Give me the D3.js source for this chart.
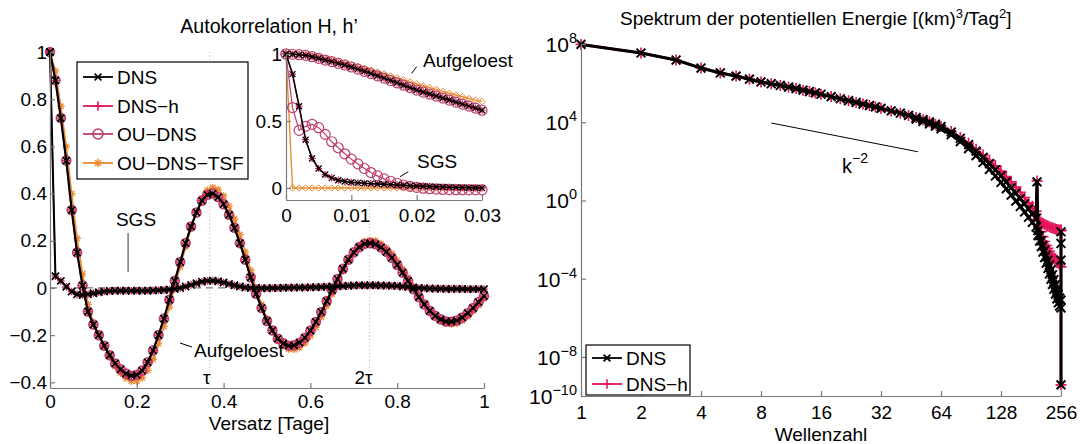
<!DOCTYPE html>
<html>
<head>
<meta charset="utf-8">
<script src="https://cdn.jsdelivr.net/npm/d3@7"></script>
<style>
body { margin: 0; background: #fff; }
#chart { width: 1080px; height: 444px; }
text { font-family: "Liberation Sans", Arial, sans-serif; fill: #000; }
</style>
</head>
<body>
<div id="chart"></div>
<script>
// Autokorrelation, Versatz 0..1 Tage (Schritt 0.0125)
var lagStep = 0.0125;
var acfDNS = [1.00, 0.88, 0.72, 0.54, 0.33, 0.15, 0.01, -0.10, -0.155, -0.20,
    -0.245, -0.285, -0.32, -0.345, -0.363, -0.372, -0.368, -0.35, -0.315, -0.265,
    -0.20, -0.13, -0.05, 0.03, 0.11, 0.19, 0.26, 0.32, 0.37, 0.395,
    0.40, 0.385, 0.355, 0.31, 0.255, 0.19, 0.12, 0.045, -0.025, -0.085,
    -0.14, -0.18, -0.215, -0.235, -0.245, -0.243, -0.232, -0.211, -0.181, -0.144,
    -0.102, -0.056, -0.009, 0.038, 0.081, 0.12, 0.151, 0.173, 0.187, 0.19,
    0.185, 0.172, 0.153, 0.128, 0.098, 0.065, 0.03, -0.005, -0.039, -0.07,
    -0.097, -0.118, -0.133, -0.142, -0.143, -0.138, -0.125, -0.107, -0.085, -0.06,
    -0.034];
var acfTSF = [1.00, 0.92, 0.77, 0.60, 0.40, 0.21, 0.06, -0.07, -0.147, -0.199,
    -0.247, -0.291, -0.331, -0.361, -0.382, -0.395, -0.395, -0.381, -0.349, -0.301,
    -0.236, -0.163, -0.081, 0.004, 0.09, 0.175, 0.255, 0.322, 0.379, 0.414,
    0.426, 0.417, 0.39, 0.347, 0.292, 0.226, 0.152, 0.074, -0.003, -0.071,
    -0.131, -0.179, -0.218, -0.245, -0.259, -0.261, -0.253, -0.233, -0.204, -0.167,
    -0.123, -0.076, -0.026, 0.025, 0.072, 0.116, 0.151, 0.178, 0.196, 0.202,
    0.2, 0.188, 0.17, 0.146, 0.116, 0.081, 0.044, 0.006, -0.03, -0.064,
    -0.094, -0.119, -0.137, -0.149, -0.153, -0.15, -0.138, -0.121, -0.098, -0.073,
    -0.045];
var acfSGS = [1.0, 0.05, 0.03, 0.005, -0.015, -0.027, -0.03, -0.027, -0.022, -0.018,
    -0.015, -0.013, -0.012, -0.012, -0.012, -0.012, -0.012, -0.012, -0.012, -0.011,
    -0.01, -0.009, -0.007, -0.004, 0.0, 0.006, 0.013, 0.02, 0.026, 0.03,
    0.031, 0.028, 0.023, 0.017, 0.011, 0.006, 0.002, 0.0, 0.0, -0.001,
    -0.001, 0.0, 0.0, 0.001, 0.001, 0.002, 0.002, 0.002, 0.003, 0.003,
    0.004, 0.005, 0.006, 0.007, 0.008, 0.009, 0.01, 0.011, 0.011, 0.011,
    0.011, 0.01, 0.01, 0.009, 0.008, 0.006, 0.004, 0.002, 0.0, -0.001,
    -0.002, -0.003, -0.003, -0.004, -0.004, -0.004, -0.004, -0.005, -0.005, -0.005,
    -0.005];

// Ausschnitt 0..0.03 Tage (Schritt 0.001)
var insetStep = 0.001;
var insetDNS = [1.0, 0.998, 0.995, 0.99, 0.98, 0.968, 0.955, 0.943, 0.93, 0.918, 0.903,
    0.887, 0.871, 0.854, 0.837, 0.82, 0.802, 0.785, 0.767, 0.749, 0.731,
    0.716, 0.701, 0.686, 0.671, 0.656, 0.641, 0.626, 0.611, 0.596, 0.58];
var insetTSF = [1.0, 0.999, 0.997, 0.993, 0.986, 0.977, 0.967, 0.956, 0.945, 0.933, 0.921,
    0.908, 0.894, 0.88, 0.866, 0.852, 0.837, 0.822, 0.807, 0.792, 0.777,
    0.763, 0.749, 0.735, 0.721, 0.707, 0.694, 0.681, 0.668, 0.656, 0.644];
var insetSgsDNS = [1.0, 0.85, 0.61, 0.36, 0.22, 0.145, 0.10, 0.075, 0.058, 0.048, 0.042,
    0.038, 0.035, 0.032, 0.03, 0.027, 0.025, 0.022, 0.02, 0.017, 0.015,
    0.013, 0.011, 0.009, 0.007, 0.006, 0.004, 0.003, 0.002, 0.001, 0.0];
var insetSgsOU = [1.0, 0.60, 0.43, 0.46, 0.475, 0.45, 0.40, 0.345, 0.30, 0.255, 0.215,
    0.18, 0.145, 0.115, 0.09, 0.068, 0.05, 0.035, 0.022, 0.012, 0.004,
    -0.002, -0.006, -0.009, -0.011, -0.012, -0.013, -0.013, -0.014, -0.014, -0.014];
var insetSgsTSF = [1.0, 0, 0, 0, 0, 0, 0, 0, 0, 0, 0,
    0, 0, 0, 0, 0, 0, 0, 0, 0, 0,
    0, 0, 0, 0, 0, 0, 0, 0, 0, 0];

var tau = 0.368;
var leftXTicks = [0, 0.2, 0.4, 0.6, 0.8, 1];
var leftYTicks = [-0.4, -0.2, 0, 0.2, 0.4, 0.6, 0.8, 1];
var insetXTicks = [0, 0.01, 0.02, 0.03];
var insetYTicks = [0, 0.5, 1];
var legendLeft = ["DNS", "DNS\u2212h", "OU\u2212DNS", "OU\u2212DNS\u2212TSF"];

// Spektrum (log10 der Energie), mehrere Zeitpunkte je Lauf
var kDNS = [1,2,3,4,5,6,7,8,9,10,11,12,13,14,15,16,18,20,22,24,26,28,30,32,36,40,44,48,52,56,60,64,
    72,80,88,96,104,112,120,128,136,144,152,160,168,176,184,192,194,
    196,200,204,208,212,216,220,224,228,232,236,240,244,248,252,256,256,256,256,256];
var eDNS = [7.98,7.54,7.18,6.77,6.52,6.36,6.2,6.06,5.97,5.88,5.8,5.72,5.64,5.57,5.5,5.43,
    5.31,5.2,5.1,5.01,4.93,4.85,4.78,4.71,4.58,4.46,4.35,4.24,4.13,4.02,3.9,3.78,
    3.5,3.18,2.85,2.52,2.2,1.88,1.56,1.25,0.95,0.65,0.37,0.1,-0.17,-0.43,-0.7,-0.92,0.95,
    -1.55,-1.8,-2.05,-2.3,-2.55,-2.8,-3.05,-3.3,-3.55,-3.8,-4.05,-4.3,-4.55,-4.8,-5.0,-5.1,-1.6,-2.2,-3.05,-9.43];
var kDNS2 = [48,52,56,60,64,72,80,88,96,104,112,120,128,136,144,152,160,168,176,184,192,
    196,200,204,208,212,216,220,224,228,232,236,240,244,248,252,256];
var eDNS2 = [4.16,4.04,3.92,3.8,3.66,3.36,3.01,2.65,2.29,1.94,1.59,1.25,0.92,0.59,0.27,-0.03,-0.31,-0.59,-0.86,-1.12,-1.36,
    -1.8,-2.08,-2.36,-2.64,-2.92,-3.2,-3.48,-3.76,-4.03,-4.29,-4.54,-4.79,-5.03,-5.24,-5.4,-5.5];
var kDNSh = [1,2,3,4,5,6,7,8,9,10,11,12,13,14,15,16,18,20,22,24,26,28,30,32,36,40,44,48,52,56,60,64,
    72,80,88,96,104,112,120,128,136,144,152,160,168,176,184,192,194,
    196,200,204,208,212,216,220,224,228,232,236,240,244,248,252,256,256,256];
var eDNSh = [7.98,7.54,7.18,6.77,6.52,6.36,6.2,6.06,5.97,5.88,5.8,5.72,5.64,5.57,5.5,5.43,
    5.31,5.2,5.1,5.01,4.93,4.85,4.78,4.71,4.58,4.46,4.35,4.24,4.13,4.02,3.9,3.78,
    3.52,3.22,2.92,2.62,2.33,2.05,1.77,1.5,1.22,0.95,0.68,0.42,0.15,-0.12,-0.4,-0.7,1.0,
    -1.0,-1.3,-1.6,-1.85,-2.1,-2.3,-2.45,-2.6,-2.75,-2.85,-2.95,-3.05,-3.15,-3.2,-3.3,-3.4,-1.5,-9.43];
var kDNSh2 = [184,192,196,200,204,208,212,216,220,224,228,232,236,240,244,248,252,256];
var eDNSh2 = [-0.3,-0.55,-0.95,-1.05,-1.12,-1.18,-1.23,-1.27,-1.31,-1.35,-1.38,-1.41,-1.44,-1.46,-1.48,-1.5,-1.52,-1.55];
var kRef = [9, 49];
var eRef = [3.96, 2.49];
var rightXTicks = [1, 2, 4, 8, 16, 32, 64, 128, 256];
var rightYTicks = [-10, -8, -4, 0, 4, 8];
var legendRight = ["DNS", "DNS\u2212h"];

var FONT = "'Liberation Sans', Arial, sans-serif";
var axisGray = "#7a7a7a";
var colDNS = "#000000", colH = "#e3165e", colOU = "#bf3f6c", colTSF = "#ec8b2f";

var svg = d3.select("#chart")
    .append("svg")
    .attr("width", 1080)
    .attr("height", 444);

function markerPath(type, s) {
    if (type == "x") return "M" + (-s) + "," + (-s) + "L" + s + "," + s + "M" + (-s) + "," + s + "L" + s + "," + (-s);
    if (type == "+") return "M" + (-s) + ",0L" + s + ",0M0," + (-s) + "L0," + s;
    if (type == "d") return "M0," + (-s) + "L" + s + ",0L0," + s + "L" + (-s) + ",0Z";
    var t = s * 0.72;
    return "M" + (-t) + "," + (-t) + "L" + t + "," + t + "M" + (-t) + "," + t + "L" + t + "," + (-t) +
        "M" + (-s) + ",0L" + s + ",0M0," + (-s) + "L0," + s;
}

function drawMarkers(g, pts, x, y, color, marker, ms, mw) {
    if (marker == "o") {
        g.selectAll(null).data(pts).enter().append("circle")
            .attr("cx", function(d) { return x(d[0]); })
            .attr("cy", function(d) { return y(d[1]); })
            .attr("r", ms)
            .attr("fill", "none")
            .attr("stroke", color)
            .attr("stroke-width", mw);
    } else {
        g.selectAll(null).data(pts).enter().append("path")
            .attr("transform", function(d) { return "translate(" + x(d[0]) + "," + y(d[1]) + ")"; })
            .attr("d", markerPath(marker, ms))
            .attr("fill", "none")
            .attr("stroke", color)
            .attr("stroke-width", mw);
    }
}

function drawSeries(g, pts, x, y, color, lw, marker, ms, mw) {
    var line = d3.line()
        .x(function(d) { return x(d[0]); })
        .y(function(d) { return y(d[1]); });
    g.append("path")
        .datum(pts)
        .attr("d", line)
        .attr("fill", "none")
        .attr("stroke", color)
        .attr("stroke-width", lw)
        .attr("stroke-linejoin", "round");
    drawMarkers(g, pts, x, y, color, marker, ms, mw);
}

function styleAxis(g) {
    g.attr("font-family", FONT).attr("font-size", 19);
    g.select(".domain").attr("stroke", axisGray).attr("stroke-width", 1.2);
    g.selectAll(".tick line").attr("stroke", axisGray).attr("stroke-width", 1.2);
    g.selectAll(".tick text").attr("fill", "#000");
}

function toPts(values, step) {
    return values.map(function(v, i) { return [i * step, v]; });
}

// ---------------- linke Grafik ----------------
var xL = d3.scaleLinear().domain([0, 1]).range([50, 484]);
var yL = d3.scaleLinear().domain([-0.424, 1]).range([388, 52]);

var left = svg.append("g");

// tau Linien und Nulllinie
[tau, 2 * tau].forEach(function(t) {
    left.append("line")
        .attr("x1", xL(t)).attr("x2", xL(t))
        .attr("y1", yL(1)).attr("y2", yL(-0.424))
        .attr("stroke", "#b5b5b5")
        .attr("stroke-width", 1)
        .attr("stroke-dasharray", "1,2.5");
});
left.append("line")
    .attr("x1", xL(0)).attr("x2", xL(1))
    .attr("y1", yL(0)).attr("y2", yL(0))
    .attr("stroke", "#7a7a7a")
    .attr("stroke-width", 1.2)
    .attr("stroke-dasharray", "7,5");

var mainCurves = left.append("g");
drawSeries(mainCurves, toPts(acfTSF, lagStep), xL, yL, colTSF, 1.6, "*", 3.8, 1.3);
drawSeries(mainCurves, toPts(acfDNS, lagStep), xL, yL, colOU, 1.4, "o", 4.4, 1.8);
drawSeries(mainCurves, toPts(acfDNS, lagStep), xL, yL, colH, 1.4, "+", 3.8, 1.3);
drawSeries(mainCurves, toPts(acfSGS, lagStep), xL, yL, colH, 1.4, "+", 3.8, 1.3);
drawSeries(mainCurves, toPts(acfDNS, lagStep), xL, yL, colDNS, 2.2, "x", 3.5, 1.7);
drawSeries(mainCurves, toPts(acfSGS, lagStep), xL, yL, colDNS, 2, "x", 3.6, 1.8);

var xAxisL = left.append("g")
    .attr("transform", "translate(0,388)")
    .call(d3.axisBottom(xL).tickValues(leftXTicks).tickSize(-5).tickSizeOuter(0).tickPadding(7).tickFormat(d3.format("~g")));
styleAxis(xAxisL);
var yAxisL = left.append("g")
    .attr("transform", "translate(50,0)")
    .call(d3.axisLeft(yL).tickValues(leftYTicks).tickSize(-5).tickSizeOuter(0).tickPadding(3).tickFormat(d3.format("~g")));
styleAxis(yAxisL);

left.append("text")
    .attr("x", 269).attr("y", 33)
    .attr("text-anchor", "middle")
    .style("font-size", "19.6px")
    .text("Autokorrelation H, h\u2019");
left.append("text")
    .attr("x", 269).attr("y", 430)
    .attr("text-anchor", "middle")
    .style("font-size", "19px")
    .text("Versatz [Tage]");
left.append("text")
    .attr("x", xL(tau) - 3).attr("y", 384)
    .attr("text-anchor", "middle")
    .style("font-size", "19px")
    .text("\u03c4");
left.append("text")
    .attr("x", xL(2 * tau) - 6).attr("y", 384)
    .attr("text-anchor", "middle")
    .style("font-size", "19px")
    .text("2\u03c4");

// Beschriftungen im Hauptplot
left.append("text")
    .attr("x", 136).attr("y", 226)
    .attr("text-anchor", "middle")
    .style("font-size", "19px")
    .text("SGS");
left.append("line")
    .attr("x1", xL(0.18)).attr("x2", xL(0.18))
    .attr("y1", yL(0.233)).attr("y2", yL(0.068))
    .attr("stroke", "#777").attr("stroke-width", 1.5);
left.append("text")
    .attr("x", 194).attr("y", 357)
    .style("font-size", "19px")
    .text("Aufgeloest");
left.append("line")
    .attr("x1", 180).attr("y1", 343).attr("x2", 192).attr("y2", 347)
    .attr("stroke", "#000").attr("stroke-width", 1);

// ---------------- Ausschnitt ----------------
var xI = d3.scaleLinear().domain([0, 0.03]).range([286, 482]);
var yI = d3.scaleLinear().domain([-0.09, 1]).range([200, 54]);
var inset = svg.append("g");
inset.append("rect")
    .attr("x", 286).attr("y", 50).attr("width", 200).attr("height", 150)
    .attr("fill", "#fff");

var insetCurves = inset.append("g");
drawSeries(insetCurves, toPts(insetTSF, insetStep), xI, yI, colTSF, 1.4, "d", 3.2, 1);
drawSeries(insetCurves, toPts(insetSgsTSF, insetStep), xI, yI, colTSF, 1.4, "d", 3.2, 1);
drawSeries(insetCurves, toPts(insetDNS, insetStep), xI, yI, colOU, 1.2, "o", 5, 1.2);
drawSeries(insetCurves, toPts(insetSgsOU, insetStep), xI, yI, colOU, 1.2, "o", 5, 1.2);
drawSeries(insetCurves, toPts(insetDNS, insetStep), xI, yI, colH, 1.2, "+", 3.6, 1.2);
drawSeries(insetCurves, toPts(insetSgsDNS, insetStep), xI, yI, colH, 1.2, "+", 3.6, 1.2);
drawSeries(insetCurves, toPts(insetDNS, insetStep), xI, yI, colDNS, 1.5, "x", 3, 1.3);
drawSeries(insetCurves, toPts(insetSgsDNS, insetStep), xI, yI, colDNS, 1.5, "x", 3, 1.3);

var xAxisI = inset.append("g")
    .attr("transform", "translate(0,200)")
    .call(d3.axisBottom(xI).tickValues(insetXTicks).tickSize(-5).tickSizeOuter(0).tickPadding(9).tickFormat(d3.format("~g")));
styleAxis(xAxisI);
var yAxisI = inset.append("g")
    .attr("transform", "translate(286,0)")
    .call(d3.axisLeft(yI).tickValues(insetYTicks).tickSize(-5).tickSizeOuter(0).tickPadding(4).tickFormat(d3.format("~g")));
styleAxis(yAxisI);

inset.append("text")
    .attr("x", 423).attr("y", 67)
    .style("font-size", "19px")
    .text("Aufgeloest");
inset.append("line")
    .attr("x1", 411.7).attr("y1", 73.3).attr("x2", 416.7).attr("y2", 66.7)
    .attr("stroke", "#000").attr("stroke-width", 1);
inset.append("text")
    .attr("x", 417).attr("y", 168)
    .style("font-size", "19px")
    .text("SGS");
inset.append("line")
    .attr("x1", 400).attr("y1", 176.7).attr("x2", 408.3).attr("y2", 171.7)
    .attr("stroke", "#000").attr("stroke-width", 1);

// Legende links
var legL = svg.append("g");
legL.append("rect")
    .attr("x", 77).attr("y", 62).attr("width", 171).attr("height", 117)
    .attr("fill", "#fff").attr("stroke", "#000").attr("stroke-width", 1.2);
var legStyles = [
    {color: colDNS, marker: "x", ms: 3.4, mw: 1.7},
    {color: colH, marker: "+", ms: 4.8, mw: 1.6},
    {color: colOU, marker: "o", ms: 5, mw: 1.6},
    {color: colTSF, marker: "*", ms: 4.2, mw: 1.4}
];
var legRowY = [77, 106, 134, 163];
legendLeft.forEach(function(name, i) {
    var st = legStyles[i];
    var yy = legRowY[i];
    legL.append("line")
        .attr("x1", 83).attr("x2", 113).attr("y1", yy).attr("y2", yy)
        .attr("stroke", st.color).attr("stroke-width", 1.8);
    drawMarkers(legL, [[98, yy]], function(v) { return v; }, function(v) { return v; }, st.color, st.marker, st.ms, st.mw);
    legL.append("text")
        .attr("x", 117).attr("y", yy + 7)
        .style("font-size", "19px")
        .text(name);
});

// ---------------- rechte Grafik ----------------
var xR = d3.scaleLog().base(2).domain([1, 256]).range([581, 1061]);
var yR = d3.scaleLog().domain([1e-10, 1e8]).range([396, 44]);
var right = svg.append("g");

function specPts(ks, es) {
    return ks.map(function(k, i) { return [k, Math.pow(10, es[i])]; });
}

var specCurves = right.append("g");
drawSeries(specCurves, specPts(kDNSh2, eDNSh2), xR, yR, colH, 2.4, "+", 5.5, 1.7);
drawSeries(specCurves, specPts(kDNSh, eDNSh), xR, yR, colH, 2.6, "+", 5.5, 1.7);
drawSeries(specCurves, specPts(kDNS2, eDNS2), xR, yR, colDNS, 3, "x", 4.4, 2);
drawSeries(specCurves, specPts(kDNS, eDNS), xR, yR, colDNS, 3, "x", 4.4, 2);

right.append("path")
    .datum(specPts(kRef, eRef))
    .attr("d", d3.line().x(function(d) { return xR(d[0]); }).y(function(d) { return yR(d[1]); }))
    .attr("stroke", "#000").attr("stroke-width", 1).attr("fill", "none");

var kLabel = right.append("text")
    .attr("x", 842).attr("y", 172.5)
    .style("font-size", "20px");
kLabel.append("tspan").text("k");
kLabel.append("tspan").attr("dy", -10).style("font-size", "14px").text("\u22122");

var xAxisR = right.append("g")
    .attr("transform", "translate(0,396)")
    .call(d3.axisBottom(xR).tickValues(rightXTicks).tickSize(-5).tickSizeOuter(0).tickPadding(10).tickFormat(d3.format("d")));
styleAxis(xAxisR);
var yAxisR = right.append("g")
    .attr("transform", "translate(581,0)")
    .call(d3.axisLeft(yR).tickValues(rightYTicks.map(function(e) { return Math.pow(10, e); })).tickSize(-5).tickSizeOuter(0).tickFormat(function() { return ""; }));
styleAxis(yAxisR);

rightYTicks.forEach(function(e) {
    var t = right.append("text")
        .attr("x", 577)
        .attr("y", yR(Math.pow(10, e)) + 8)
        .attr("text-anchor", "end")
        .style("font-size", "21px");
    t.append("tspan").text("10");
    t.append("tspan").attr("dy", -9).style("font-size", "14.5px").text(e < 0 ? "\u2212" + (-e) : "" + e);
});

var titleR = right.append("text")
    .attr("x", 620).attr("y", 25)
    .style("font-size", "19px");
titleR.append("tspan").text("Spektrum der potentiellen Energie [(km)");
titleR.append("tspan").attr("dy", -7).style("font-size", "13px").text("3");
titleR.append("tspan").attr("dy", 7).text("/Tag");
titleR.append("tspan").attr("dy", -7).style("font-size", "13px").text("2");
titleR.append("tspan").attr("dy", 7).text("]");

right.append("text")
    .attr("x", 821).attr("y", 441)
    .attr("text-anchor", "middle")
    .style("font-size", "19px")
    .text("Wellenzahl");

// Legende rechts
var legR = svg.append("g");
legR.append("rect")
    .attr("x", 586).attr("y", 345).attr("width", 104).attr("height", 50)
    .attr("fill", "#fff").attr("stroke", "#000").attr("stroke-width", 1.2);
var legRStyles = [
    {color: colDNS, marker: "x", ms: 3.4, mw: 1.9},
    {color: colH, marker: "+", ms: 4.8, mw: 1.6}
];
var legRRowY = [358, 384];
legendRight.forEach(function(name, i) {
    var st = legRStyles[i];
    var yy = legRRowY[i];
    legR.append("line")
        .attr("x1", 592).attr("x2", 622).attr("y1", yy).attr("y2", yy)
        .attr("stroke", st.color).attr("stroke-width", 1.8);
    drawMarkers(legR, [[607, yy]], function(v) { return v; }, function(v) { return v; }, st.color, st.marker, st.ms, st.mw);
    legR.append("text")
        .attr("x", 626).attr("y", yy + 7)
        .style("font-size", "19px")
        .text(name);
});
</script>
</body>
</html>
